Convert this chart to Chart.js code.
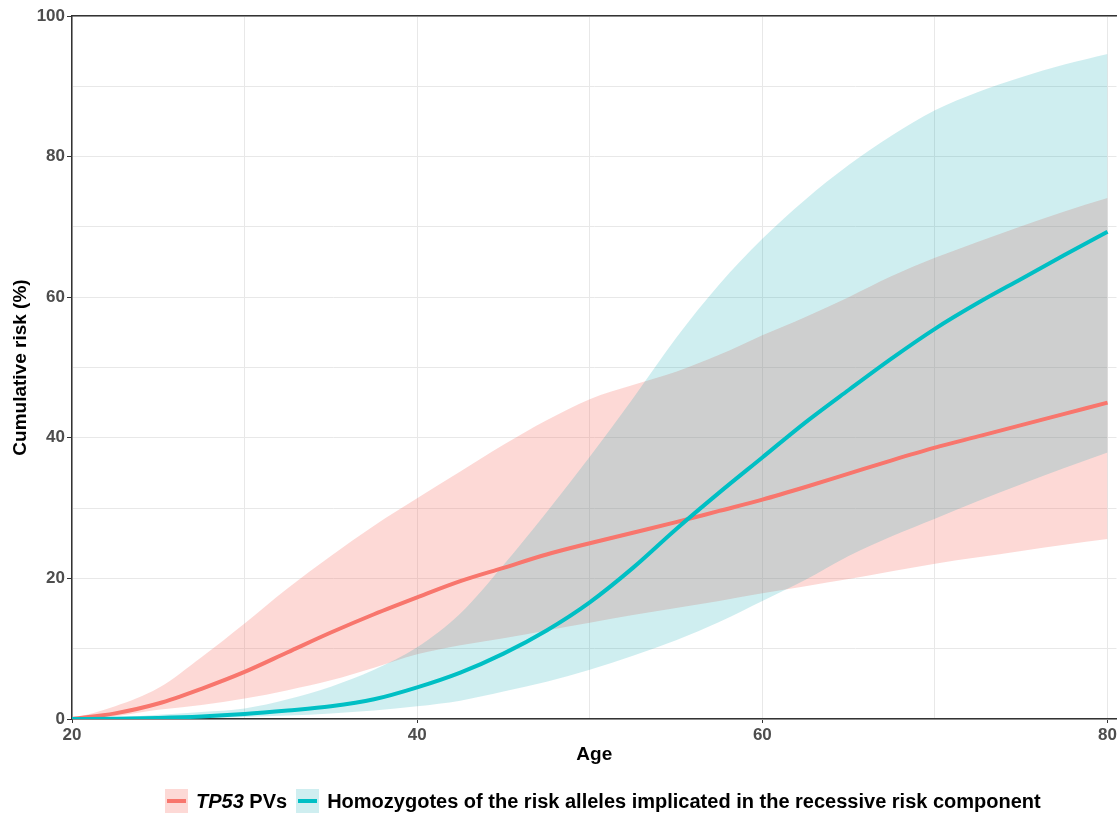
<!DOCTYPE html>
<html>
<head>
<meta charset="utf-8">
<script src="https://cdn.jsdelivr.net/npm/chart.js@4.4.1/dist/chart.umd.min.js"></script>
<style>
  html, body { margin: 0; padding: 0; background: #fff; }
  #wrap { position: relative; width: 1119px; height: 813px; overflow: hidden; }
  #legend {
    position: absolute; left: 165px; top: 789px; height: 24px;
    display: flex; align-items: center;
    font-family: "Liberation Sans", Arial, sans-serif; font-weight: bold; font-size: 20px; color: #000;
  }
  .key { position: relative; width: 23px; height: 24px; margin-right: 8px; }
  .key span { position: absolute; left: 2px; right: 2px; top: 10px; height: 4px; }
  .item { display: flex; align-items: center; margin-right: 9px; white-space: nowrap; }
</style>
</head>
<body>
<div id="wrap">
  <canvas id="risk-chart" width="1119" height="813"></canvas>
  <div id="legend"></div>
</div>
<script>
// ages (years)
const ages = [20, 22.5, 25, 27.5, 30, 32.5, 35, 37.5, 40, 42.5, 45, 47.5, 50,
              52.5, 55, 57.5, 60, 62.5, 65, 67.5, 70, 72.5, 75, 77.5, 80];

// TP53 PVs - cumulative risk (%) with confidence band
const tp53Risk  = [0, 0.8, 2.2, 4.3, 6.7, 9.5, 12.3, 14.9, 17.3, 19.6, 21.5, 23.4, 25.0,
                   26.5, 28.0, 29.6, 31.2, 33.0, 34.9, 36.8, 38.6, 40.2, 41.8, 43.4, 45.0];
const tp53Upper = [0, 1.8, 4.4, 8.8, 13.6, 18.6, 23.2, 27.5, 31.4, 35.2, 39.0, 42.5, 45.5,
                   47.5, 49.4, 51.8, 54.6, 57.2, 60.0, 63.0, 65.6, 67.9, 70.1, 72.2, 74.1];
const tp53Lower = [0, 0.4, 1.3, 2.0, 2.9, 4.1, 5.5, 7.3, 9.2, 10.5, 11.5, 12.6, 13.7,
                   14.8, 15.8, 16.8, 17.9, 18.9, 19.9, 21.0, 22.1, 23.0, 23.9, 24.8, 25.6];

// Homozygotes (recessive component)
const homoRisk  = [0, 0.05, 0.15, 0.35, 0.7, 1.2, 1.8, 2.8, 4.5, 6.6, 9.3, 12.6, 16.6,
                   21.5, 27.0, 32.2, 37.2, 42.2, 46.8, 51.3, 55.5, 59.2, 62.6, 66.0, 69.3];
const homoUpper = [0, 0.2, 0.6, 1.0, 1.5, 2.8, 4.6, 7.0, 10.2, 15.0, 21.9, 29.4, 37.3,
                   45.6, 54.2, 61.8, 68.3, 73.9, 78.8, 83.0, 86.6, 89.2, 91.3, 93.1, 94.6];
const homoLower = [0, 0, 0.05, 0.1, 0.3, 0.5, 0.8, 1.2, 1.8, 2.6, 3.9, 5.3, 7.0,
                   9.0, 11.2, 13.8, 16.8, 19.8, 23.2, 26.0, 28.5, 31.0, 33.4, 35.7, 37.9];

const seriesLabels = ['<i>TP53</i> PVs', 'Homozygotes of the risk alleles implicated in the recessive risk component'];
const lineColors = ['#F8766D', '#00BFC4'];
const bandColors = ['rgba(248, 118, 109, 0.28)', 'rgba(0, 165, 175, 0.19)'];

const xTicks = [20, 30, 40, 50, 60, 70, 80];
const yTicks = [0, 10, 20, 30, 40, 50, 60, 70, 80, 90, 100];

function pts(values) {
    return ages.map((a, i) => ({ x: a, y: values[i] }));
}

function band(values, color, fill, order) {
    return {
        data: pts(values),
        borderWidth: 0,
        pointRadius: 0,
        backgroundColor: color,
        fill: fill,
        cubicInterpolationMode: 'monotone',
        order: order
    };
}

const tickFont = { family: '"Liberation Sans", Arial, sans-serif', size: 17, weight: 'bold' };
const titleFont = { family: '"Liberation Sans", Arial, sans-serif', size: 19, weight: 'bold' };

const ctx = document.getElementById('risk-chart');
const chart = new Chart(ctx, {
    type: 'line',
    data: {
        datasets: [
            {
                label: 'TP53 PVs',
                data: pts(tp53Risk),
                borderColor: lineColors[0],
                borderWidth: 4,
                pointRadius: 0,
                fill: false,
                cubicInterpolationMode: 'monotone',
                order: 1
            },
            {
                label: 'Homozygotes',
                data: pts(homoRisk),
                borderColor: lineColors[1],
                borderWidth: 4,
                pointRadius: 0,
                fill: false,
                cubicInterpolationMode: 'monotone',
                order: 0
            },
            band(tp53Upper, bandColors[0], '+1', 3),
            band(tp53Lower, bandColors[0], false, 3),
            band(homoUpper, bandColors[1], '+1', 2),
            band(homoLower, bandColors[1], false, 2)
        ]
    },
    options: {
        responsive: false,
        animation: false,
        events: [],
        layout: { padding: { left: 0, right: 0, top: 16, bottom: 47 } },
        plugins: {
            legend: { display: false },
            tooltip: { enabled: false }
        },
        scales: {
            x: {
                type: 'linear',
                min: 20,
                max: 80.52,
                afterBuildTicks: s => { s.ticks = xTicks.map(v => ({ value: v })); },
                afterFit: s => { s.height = 47; },
                grid: {
                    color: '#E8E8E8',
                    lineWidth: 1,
                    tickLength: 4,
                    tickColor: c => (c.tick && c.tick.value % 20 === 0) ? '#333333' : 'rgba(0,0,0,0)'
                },
                border: { color: '#333333', width: 1.5 },
                ticks: {
                    font: tickFont,
                    color: '#4D4D4D',
                    padding: 2,
                    maxRotation: 0,
                    autoSkip: false,
                    callback: v => v % 20 === 0 ? v : ''
                },
                title: { display: true, text: 'Age', font: titleFont, color: '#000', padding: { top: 0, bottom: 0 } }
            },
            x2: {
                type: 'linear',
                position: 'top',
                min: 20,
                max: 80.52,
                grid: { display: false },
                ticks: { display: false },
                border: { color: '#333333', width: 1.5 },
                afterFit: s => { s.height = 0; }
            },
            y: {
                min: 0,
                max: 100,
                afterBuildTicks: s => { s.ticks = yTicks.map(v => ({ value: v })); },
                afterFit: s => { s.width = 72; },
                grid: {
                    color: '#E8E8E8',
                    lineWidth: 1,
                    tickLength: 5,
                    tickColor: c => (c.tick && c.tick.value % 20 === 0) ? '#333333' : 'rgba(0,0,0,0)'
                },
                border: { color: '#333333', width: 1.5 },
                ticks: {
                    font: tickFont,
                    color: '#4D4D4D',
                    padding: 2,
                    autoSkip: false,
                    callback: v => v % 20 === 0 ? v : ''
                },
                title: { display: true, text: 'Cumulative risk (%)', font: titleFont, color: '#000', padding: { top: 9, bottom: 0 } }
            }
        }
    }
});

// html legend (mixed italic text)
const legendEl = document.getElementById('legend');
seriesLabels.forEach((lab, i) => {
    const item = document.createElement('div');
    item.className = 'item';
    item.innerHTML = '<div class="key" style="background:' + bandColors[i] + '"><span style="background:' +
        lineColors[i] + '"></span></div><div>' + lab + '</div>';
    legendEl.appendChild(item);
});
</script>
</body>
</html>
